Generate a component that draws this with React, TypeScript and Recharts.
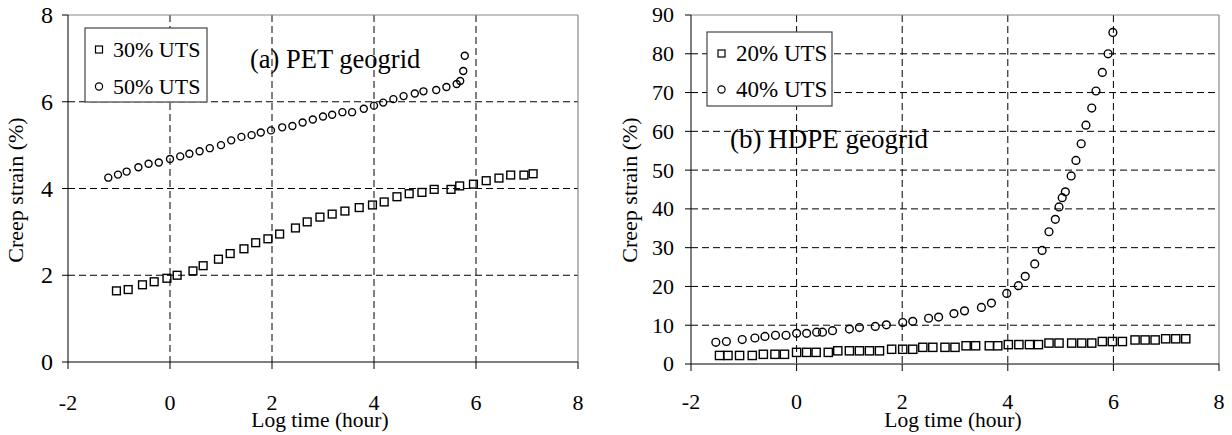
import React from 'react';
import { ScatterChart, Scatter, XAxis, YAxis, CartesianGrid, ReferenceLine } from 'recharts';

const FONT = "'Liberation Serif', 'Times New Roman', Times, serif";

// ---- ticks ----
const xTicks = [-2, 0, 2, 4, 6, 8];
const petYTicks = [0, 2, 4, 6, 8];
const hdpeYTicks = [0, 10, 20, 30, 40, 50, 60, 70, 80, 90];
const petGridX = [0, 2, 4, 6];
const petGridY = [2, 4, 6];
const hdpeGridX = [0, 2, 4, 6];
const hdpeGridY = [10, 20, 30, 40, 50, 60, 70, 80];

// ---- (a) PET geogrid ----
const pet30X = [-1.05, -0.82, -0.54, -0.31, -0.06, 0.14, 0.45, 0.65, 0.95, 1.18, 1.45, 1.68, 1.92, 2.15, 2.46, 2.69, 2.94, 3.18, 3.43, 3.71, 3.97, 4.2, 4.45, 4.69, 4.94, 5.18, 5.51, 5.68, 5.95, 6.2, 6.45, 6.68, 6.94, 7.12];
const pet30Y = [1.64, 1.67, 1.78, 1.85, 1.93, 2.0, 2.1, 2.22, 2.37, 2.5, 2.61, 2.75, 2.84, 2.95, 3.09, 3.23, 3.34, 3.41, 3.48, 3.56, 3.62, 3.69, 3.81, 3.88, 3.91, 3.98, 3.98, 4.06, 4.1, 4.18, 4.24, 4.31, 4.31, 4.34];
const pet50X = [-1.21, -1.02, -0.85, -0.62, -0.42, -0.22, 0.0, 0.2, 0.38, 0.58, 0.78, 1.0, 1.2, 1.4, 1.6, 1.78, 1.98, 2.2, 2.4, 2.6, 2.8, 3.0, 3.18, 3.38, 3.57, 3.8, 4.0, 4.18, 4.38, 4.58, 4.8, 4.97, 5.22, 5.42, 5.62, 5.69, 5.75, 5.78];
const pet50Y = [4.25, 4.32, 4.39, 4.49, 4.57, 4.6, 4.68, 4.74, 4.8, 4.86, 4.93, 5.0, 5.11, 5.19, 5.23, 5.29, 5.34, 5.41, 5.44, 5.52, 5.59, 5.66, 5.7, 5.76, 5.76, 5.84, 5.91, 5.98, 6.06, 6.13, 6.19, 6.24, 6.27, 6.34, 6.41, 6.48, 6.71, 7.06];

// ---- (b) HDPE geogrid ----
const hdpe20X = [-1.46, -1.3, -1.08, -0.84, -0.63, -0.41, -0.23, 0.0, 0.19, 0.37, 0.6, 0.78, 1.0, 1.19, 1.38, 1.57, 1.8, 2.01, 2.2, 2.39, 2.58, 2.81, 3.0, 3.21, 3.39, 3.65, 3.81, 4.01, 4.21, 4.41, 4.58, 4.78, 4.97, 5.21, 5.4, 5.59, 5.79, 5.98, 6.17, 6.41, 6.6, 6.79, 6.99, 7.18, 7.37];
const hdpe20Y = [2.2, 2.2, 2.2, 2.2, 2.5, 2.5, 2.5, 3.0, 3.0, 3.0, 3.0, 3.4, 3.4, 3.4, 3.4, 3.4, 3.8, 3.8, 3.8, 4.3, 4.3, 4.3, 4.3, 4.7, 4.7, 4.7, 4.7, 5.0, 5.0, 5.0, 5.0, 5.4, 5.4, 5.4, 5.4, 5.4, 5.8, 5.8, 5.8, 6.2, 6.2, 6.2, 6.5, 6.5, 6.5];
const hdpe40X = [-1.53, -1.33, -1.03, -0.79, -0.6, -0.4, -0.2, 0.0, 0.19, 0.38, 0.49, 0.68, 1.0, 1.19, 1.49, 1.7, 2.01, 2.2, 2.5, 2.69, 2.98, 3.18, 3.5, 3.69, 3.98, 4.2, 4.33, 4.51, 4.65, 4.78, 4.9, 4.97, 5.03, 5.09, 5.2, 5.29, 5.39, 5.48, 5.59, 5.67, 5.79, 5.9, 5.99];
const hdpe40Y = [5.6, 5.8, 6.3, 6.7, 7.1, 7.4, 7.4, 7.9, 7.9, 8.2, 8.2, 8.6, 9.0, 9.4, 9.7, 10.1, 10.7, 11.0, 11.8, 12.1, 13.0, 13.7, 14.6, 15.7, 18.2, 20.2, 22.6, 25.8, 29.3, 34.1, 37.3, 40.5, 42.9, 44.4, 48.5, 52.5, 56.8, 61.6, 66.0, 70.4, 75.2, 80.0, 85.5];

const zip = (xs: number[], ys: number[]) => xs.map((x, i) => ({ x, y: ys[i] }));

const squareShape = (size: number) => (p: any) => (
  <rect x={p.cx - size / 2} y={p.cy - size / 2} width={size} height={size} fill="none" stroke="#000" strokeWidth={1.4} />
);
const circleShape = (r: number) => (p: any) => (
  <circle cx={p.cx} cy={p.cy} r={r} fill="none" stroke="#000" strokeWidth={1.4} />
);

const txtStyle: React.CSSProperties = { fontFamily: FONT, fill: '#000' };

const makeXTick = (size: number) => (p: any) => (
  <text x={p.x} y={p.y} dy={size * 0.71} textAnchor="middle" fontSize={size} fontFamily={FONT} fill="#000" style={txtStyle}>
    {p.payload.value}
  </text>
);
const makeYTick = (size: number) => (p: any) => (
  <text x={p.x} y={p.y} dy={size * 0.34} textAnchor="end" fontSize={size} fontFamily={FONT} fill="#000" style={txtStyle}>
    {p.payload.value}
  </text>
);

type PanelProps = {
  left: number;
  margin: { top: number; right: number; bottom: number; left: number };
  yAxisWidth: number;
  xAxisHeight: number;
  xTickMargin: number;
  yTickMargin: number;
  yTickSize: number;
  yTicks: number[];
  yMax: number;
  gridX: number[];
  gridY: number[];
  squares: { x: number; y: number }[];
  circles: { x: number; y: number }[];
  sqSize: number;
  cr: number;
  squareName: string;
  circleName: string;
  overlay: {
    yLabelX: number; yLabelY: number;
    xLabelX: number; xLabelY: number;
    noteX: number; noteY: number; noteSize: number; note: string;
    box: { x: number; y: number; w: number; h: number };
    mX: number; tX: number; r1: number; r2: number; legSize: number;
  };
};

function Panel(props: PanelProps) {
  const o = props.overlay;
  return (
    <div style={{ position: 'absolute', left: props.left, top: 0, width: 616, height: 435 }}>
      <ScatterChart width={616} height={435} margin={props.margin}>
        <CartesianGrid
          stroke="#000"
          strokeWidth={1}
          strokeDasharray="7 4"
          horizontalValues={props.gridY}
          verticalValues={props.gridX}
        />
        <XAxis
          type="number"
          dataKey="x"
          domain={[-2, 8]}
          ticks={xTicks}
          interval={0}
          height={props.xAxisHeight}
          tickSize={7}
          tickMargin={props.xTickMargin}
          tick={makeXTick(22)}
          axisLine={{ stroke: '#000', strokeWidth: 1 }}
          tickLine={{ stroke: '#000', strokeWidth: 1 }}
          allowDataOverflow
        />
        <YAxis
          type="number"
          dataKey="y"
          domain={[0, props.yMax]}
          ticks={props.yTicks}
          interval={0}
          width={props.yAxisWidth}
          tickSize={6}
          tickMargin={props.yTickMargin}
          tick={makeYTick(props.yTickSize)}
          axisLine={{ stroke: '#000', strokeWidth: 1 }}
          tickLine={{ stroke: '#000', strokeWidth: 1 }}
          allowDataOverflow
        />
        <ReferenceLine y={props.yMax} stroke="#888" strokeWidth={1.2} />
        <ReferenceLine x={8} stroke="#888" strokeWidth={1.2} />
        <Scatter name={props.squareName} data={props.squares} shape={squareShape(props.sqSize)} isAnimationActive={false} />
        <Scatter name={props.circleName} data={props.circles} shape={circleShape(props.cr)} isAnimationActive={false} />
      </ScatterChart>
      <svg width={616} height={435} style={{ position: 'absolute', left: 0, top: 0, pointerEvents: 'none' }}>
        <text
          x={o.yLabelX}
          y={o.yLabelY}
          transform={`rotate(-90 ${o.yLabelX} ${o.yLabelY})`}
          textAnchor="middle"
          fontFamily={FONT}
          fontSize={22}
          fill="#000"
          style={txtStyle}
        >
          Creep strain (%)
        </text>
        <text x={o.xLabelX} y={o.xLabelY} textAnchor="middle" fontFamily={FONT} fontSize={21.5} fill="#000" style={txtStyle}>
          Log time (hour)
        </text>
        <text x={o.noteX} y={o.noteY} fontFamily={FONT} fontSize={o.noteSize} fill="#000" style={txtStyle}>
          {o.note}
        </text>
        <rect x={o.box.x} y={o.box.y} width={o.box.w} height={o.box.h} fill="#fff" stroke="#444" strokeWidth={1.2} />
        <rect x={o.mX - 3.5} y={o.r1 - 3.5} width={7} height={7} fill="none" stroke="#000" strokeWidth={1.2} />
        <text x={o.tX} y={o.r1 + 7.5} fontFamily={FONT} fontSize={o.legSize} fill="#000" style={txtStyle}>
          {props.squareName}
        </text>
        <circle cx={o.mX} cy={o.r2} r={3.6} fill="none" stroke="#000" strokeWidth={1.2} />
        <text x={o.tX} y={o.r2 + 7.5} fontFamily={FONT} fontSize={o.legSize} fill="#000" style={txtStyle}>
          {props.circleName}
        </text>
      </svg>
    </div>
  );
}

export default function App() {
  return (
    <div style={{ position: 'fixed', left: 0, top: 0, width: 1232, height: 435, background: '#fff', overflow: 'hidden' }}>
      <Panel
        left={0}
        margin={{ top: 15, right: 38, bottom: 0, left: 0 }}
        yAxisWidth={68}
        xAxisHeight={73}
        xTickMargin={25}
        yTickMargin={9}
        yTickSize={24}
        yTicks={petYTicks}
        yMax={8}
        gridX={petGridX}
        gridY={petGridY}
        squares={zip(pet30X, pet30Y)}
        circles={zip(pet50X, pet50Y)}
        sqSize={7.8}
        cr={3.5}
        squareName="30% UTS"
        circleName="50% UTS"
        overlay={{
          yLabelX: 23, yLabelY: 190,
          xLabelX: 320, xLabelY: 427,
          noteX: 250, noteY: 68, noteSize: 26.5, note: '(a) PET geogrid',
          box: { x: 85, y: 28, w: 122, h: 74 },
          mX: 99, tX: 113, r1: 49.5, r2: 86.5, legSize: 22,
        }}
      />
      <Panel
        left={616}
        margin={{ top: 15, right: 13, bottom: 0, left: 0 }}
        yAxisWidth={75}
        xAxisHeight={71}
        xTickMargin={22}
        yTickMargin={11}
        yTickSize={22}
        yTicks={hdpeYTicks}
        yMax={90}
        gridX={hdpeGridX}
        gridY={hdpeGridY}
        squares={zip(hdpe20X, hdpe20Y)}
        circles={zip(hdpe40X, hdpe40Y)}
        sqSize={8.2}
        cr={3.9}
        squareName="20% UTS"
        circleName="40% UTS"
        overlay={{
          yLabelX: 21, yLabelY: 190,
          xLabelX: 337, xLabelY: 427,
          noteX: 114, noteY: 148, noteSize: 27, note: '(b) HDPE geogrid',
          box: { x: 91, y: 32, w: 125, h: 74 },
          mX: 105.5, tX: 120, r1: 53.5, r2: 89.5, legSize: 23,
        }}
      />
    </div>
  );
}
